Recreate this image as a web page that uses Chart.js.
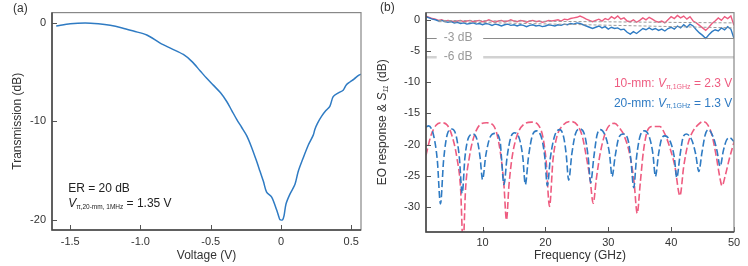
<!DOCTYPE html>
<html>
<head>
<meta charset="utf-8">
<script src="https://cdn.jsdelivr.net/npm/chart.js@4.4.1/dist/chart.umd.min.js"></script>
<style>
  body { margin: 0; background: #fff; }
  #wrap { position: relative; width: 748px; height: 266px; }
  canvas { position: absolute; top: 0; }
</style>
</head>
<body>
<div id="wrap">
  <canvas id="grafA" width="374" height="266" style="left:0"></canvas>
  <canvas id="grafB" width="374" height="266" style="left:374px"></canvas>
</div>
<script>
// painel (a) - transmissao vs tensao
const tensao = [-1.60, -1.50, -1.394, -1.30, -1.216, -1.13, -1.05, -0.955, -0.86, -0.78, -0.695, -0.635,
  -0.576, -0.53, -0.48, -0.43, -0.386, -0.35, -0.315, -0.28, -0.244, -0.21, -0.173, -0.149, -0.125, -0.102,
  -0.066, -0.031, -0.015, -0.007, 0.012, 0.022, 0.036, 0.064, 0.1, 0.123, 0.159, 0.195, 0.23, 0.242, 0.26,
  0.29, 0.32, 0.348, 0.372, 0.41, 0.443, 0.465, 0.491, 0.52, 0.55, 0.57];
const transmissao = [-0.3, -0.08, 0.0, -0.08, -0.23, -0.5, -0.82, -1.22, -2.04, -2.6, -3.2, -3.9,
  -4.85, -5.6, -6.34, -7.1, -7.98, -8.9, -9.8, -10.6, -11.45, -12.6, -14.06, -15.08, -16.1, -17.2,
  -17.7, -19.0, -19.7, -20.0, -20.0, -19.6, -18.4, -17.4, -16.4, -15.1, -13.7, -12.4, -11.4, -10.8, -10.2,
  -9.47, -8.9, -8.48, -7.49, -7.1, -6.83, -6.3, -6.0, -5.7, -5.35, -5.2];
const xTicksA = [-1.5, -1.0, -0.5, 0, 0.5];
const xLabelsA = ['-1.5', '-1.0', '-0.5', '0', '0.5'];
const yTicksA = [0, -10, -20];

// painel (b) - resposta EO (solido) e S11 (tracejado)
const freq = [1, 1.5, 2, 2.5, 3, 3.5, 4, 4.5, 5, 5.5, 6, 6.5, 7, 7.5, 8, 8.5, 9, 9.5, 10, 10.5,
  11, 11.5, 12, 12.5, 13, 13.5, 14, 14.5, 15, 15.5, 16, 16.5, 17, 17.5, 18, 18.5, 19, 19.5, 20, 20.5,
  21, 21.5, 22, 22.5, 23, 23.5, 24, 24.5, 25, 25.5, 26, 26.5, 27, 27.5, 28, 28.5, 29, 29.5, 30, 30.5,
  31, 31.5, 32, 32.5, 33, 33.5, 34, 34.5, 35, 35.5, 36, 36.5, 37, 37.5, 38, 38.5, 39, 39.5, 40, 40.5,
  41, 41.5, 42, 42.5, 43, 43.5, 44, 44.5, 45, 45.5, 46, 46.5, 47, 47.5, 48, 48.5, 49, 49.5, 50];
const eo10mm = [0.6, 0.4, 0.2, 0.1, -0.1, 0.0, -0.2, -0.1, -0.2, -0.3, -0.2, -0.1, -0.3, -0.2, -0.1, -0.3, -0.2, -0.1, -0.3, -0.2,
  0.0, -0.2, -0.4, -0.2, -0.1, -0.3, -0.2, 0.0, -0.2, -0.3, -0.1, -0.2, -0.4, -0.2, -0.1, -0.3, -0.2, -0.4, -0.3, -0.1,
  -0.2, -0.1, 0.0, -0.2, 0.1, 0.0, 0.2, 0.3, 0.4, 0.6, 0.4, 0.1, -0.1, -0.3, -0.1, 0.1, -0.2, 0.2, 0.0, 0.5,
  0.2, 0.6, 0.1, 0.3, -0.2, -0.3, 0.0, -0.4, -0.1, 0.3, 0.0, 0.4, 0.1, -0.2, -0.4, -0.2, -0.5, 0.0, 0.5, 0.2,
  0.7, 0.3, 0.6, 0.1, 0.5, -0.2, -0.5, -0.9, -1.3, -1.7, -1.2, -0.6, -0.2, 0.3, -0.1, 0.5, 0.2, 0.6, -0.9];
const eo20mm = [0.5, 0.3, 0.1, 0.0, -0.2, -0.1, -0.3, -0.4, -0.3, -0.5, -0.4, -0.6, -0.5, -0.7, -0.6, -0.5, -0.7, -0.6, -0.8, -0.6,
  -0.7, -0.9, -0.7, -0.8, -1.0, -0.8, -0.7, -0.9, -0.8, -1.0, -0.8, -0.9, -1.1, -0.9, -0.8, -1.0, -0.9, -1.1, -1.0, -0.8,
  -0.9, -1.0, -0.8, -0.9, -0.7, -0.8, -0.6, -0.7, -0.5, -0.6, -0.8, -1.0, -1.2, -1.4, -1.2, -1.0, -1.3, -1.1, -1.5, -1.2,
  -1.4, -1.3, -1.6, -1.5, -2.0, -2.3, -1.9, -2.2, -1.8, -1.4, -1.6, -1.3, -1.6, -1.4, -1.7, -1.5, -1.8, -1.4, -1.2, -1.5,
  -1.0, -1.3, -0.8, -1.2, -0.7, -1.0, -1.6, -2.1, -2.5, -3.0, -2.4, -1.9, -1.6, -1.8, -1.3, -1.6, -1.1, -1.5, -3.0];

const s11AzulFreq = [1.0, 1.4, 2.2, 2.8, 3.3, 3.8, 4.4, 5.1, 5.8, 6.3, 6.76, 7.2, 7.8, 8.5, 9.2, 9.6, 10.0, 10.5,
  11.2, 12.0, 12.8, 13.0, 13.4, 13.9, 14.5, 15.1, 15.9, 16.4, 16.8, 17.3, 17.9, 18.6, 19.4, 19.9, 20.3, 20.8,
  21.5, 22.3, 22.9, 23.3, 23.7, 24.2, 24.8, 25.5, 26.3, 26.8, 27.2, 27.7, 28.2, 28.7, 29.6, 30.2, 30.6, 31.1,
  31.7, 32.4, 33.2, 33.6, 34.05, 34.5, 35.1, 35.8, 36.6, 37.1, 37.5, 38.0, 38.5, 39.0, 39.9, 40.5, 40.9, 41.4,
  41.9, 42.4, 43.3, 43.9, 44.4, 44.9, 45.4, 45.9, 46.7, 47.3, 47.8, 48.3, 48.8, 49.3, 50.0];
const s11AzulDb = [-17.2, -17.0, -18.5, -22.5, -29.5, -22.5, -18.3, -17.5, -18.6, -22.0, -27.8, -22.0, -18.8, -18.3, -19.5, -22.0, -25.6, -21.8,
  -18.8, -18.2, -19.5, -22.0, -26.4, -22.0, -18.8, -18.1, -19.2, -22.0, -26.4, -22.0, -18.6, -17.8, -19.0, -22.0, -26.6, -22.0,
  -18.5, -17.6, -18.8, -21.5, -25.7, -21.5, -18.2, -17.5, -18.7, -22.0, -26.1, -22.0, -18.5, -17.6, -18.8, -21.5, -25.1, -21.8,
  -18.8, -18.3, -19.5, -22.5, -26.9, -22.0, -18.5, -17.8, -19.0, -21.5, -25.1, -21.5, -19.0, -18.6, -19.6, -22.0, -25.3, -21.8,
  -18.8, -18.3, -19.3, -21.5, -24.3, -21.3, -18.5, -17.6, -18.8, -21.0, -23.5, -21.0, -19.3, -18.9, -19.5];

const s11RosaFreq = [1.0, 1.8, 2.6, 3.5, 4.4, 5.2, 5.9, 6.5, 6.9, 7.3, 7.9, 8.6, 9.5, 10.6, 11.7, 12.4, 13.0, 13.4,
  13.8, 14.2, 14.7, 15.5, 16.5, 17.8, 18.9, 19.6, 20.1, 20.65, 21.2, 21.8, 22.8, 24.0, 25.1, 25.9, 26.6, 27.1,
  27.6, 28.1, 28.7, 29.5, 30.3, 31.0, 31.9, 32.5, 33.5, 34.1, 34.6, 35.1, 35.6, 36.3, 37.0, 38.2, 39.0, 39.8,
  40.6, 41.4, 42.0, 42.7, 43.5, 44.3, 45.1, 45.8, 46.5, 47.2, 47.7, 48.1, 48.6, 49.2, 50.0];
const s11RosaDb = [-21.7, -18.5, -16.9, -16.5, -16.9, -18.8, -22.0, -27.0, -36.0, -27.0, -22.0, -18.8, -16.9, -16.5, -16.9, -18.8, -22.5, -26.5,
  -32.1, -26.5, -22.0, -18.5, -16.8, -16.4, -16.9, -18.8, -22.5, -29.9, -22.5, -18.8, -16.9, -16.3, -16.9, -18.8, -22.5, -25.5,
  -29.4, -25.5, -21.5, -18.2, -16.8, -16.6, -17.5, -18.5, -22.0, -26.0, -31.0, -26.0, -21.0, -17.6, -17.1, -17.1, -18.3, -20.5,
  -23.5, -28.2, -23.5, -19.8, -17.8, -16.8, -16.3, -16.8, -18.5, -22.0, -25.0, -26.6, -25.0, -22.5, -19.6];

// linhas de referencia -3 dB / -6 dB (com espaco para o texto) e ajustes tracejados
const ref3dB = [{ x: 1, y: -3 }, { x: 2.7, y: -3 }, { x: null, y: null }, { x: 10.1, y: -3 }, { x: 50, y: -3 }];
const ref6dB = [{ x: 1, y: -6 }, { x: 2.7, y: -6 }, { x: null, y: null }, { x: 10.1, y: -6 }, { x: 50, y: -6 }];
const ajuste10mm = [{ x: 3, y: -0.1 }, { x: 50, y: -0.5 }];
const ajuste20mm = [{ x: 3, y: -0.3 }, { x: 50, y: -1.3 }];
const xTicksB = [10, 20, 30, 40, 50];
const yTicksB = [0, -5, -10, -15, -20, -25, -30];

const AZUL = '#2f7bc3';
const ROSA = '#ee5c80';
const FONTE = '"Liberation Sans", Arial, Helvetica, sans-serif';

function pares(xs, ys) {
    return xs.map((x, i) => ({ x: x, y: ys[i] }));
}

// escreve varios pedacos de texto em sequencia (italico, subscrito...)
function textoComposto(ctx, x, y, partes) {
    let cx = x;
    partes.forEach(p => {
        ctx.font = p.f;
        ctx.fillStyle = p.c;
        ctx.fillText(p.t, cx, y + (p.dy || 0));
        cx += ctx.measureText(p.t).width;
    });
}

// ticks para dentro + moldura
const moldura = {
    id: 'moldura',
    afterDraw(chart) {
        const ctx = chart.ctx, a = chart.chartArea;
        const sx = chart.scales.x, sy = chart.scales.y;
        ctx.save();
        ctx.strokeStyle = '#555';
        ctx.lineWidth = 1;
        sx.ticks.forEach(t => {
            const px = Math.round(sx.getPixelForValue(t.value)) + 0.5;
            ctx.beginPath(); ctx.moveTo(px, a.bottom); ctx.lineTo(px, a.bottom - 5); ctx.stroke();
        });
        sy.ticks.forEach(t => {
            const py = Math.round(sy.getPixelForValue(t.value)) + 0.5;
            ctx.beginPath(); ctx.moveTo(a.left, py); ctx.lineTo(a.left + 5, py); ctx.stroke();
        });
        ctx.strokeStyle = '#888';
        ctx.lineWidth = 1.2;
        ctx.strokeRect(a.left, a.top, a.right - a.left, a.bottom - a.top);
        ctx.strokeStyle = '#444';
        ctx.lineWidth = 1.5;
        ctx.beginPath();
        ctx.moveTo(a.left, a.top); ctx.lineTo(a.left, a.bottom); ctx.lineTo(a.right, a.bottom);
        ctx.stroke();
        ctx.restore();
    }
};

function eixoX(min, max, ticks, labels, altura, pad, titulo) {
    return {
        type: 'linear', min: min, max: max,
        afterBuildTicks: s => { s.ticks = ticks.map(v => ({ value: v })); },
        afterFit: s => { s.height = altura; },
        grid: { display: false, drawTicks: false },
        border: { display: false },
        ticks: {
            padding: pad, color: '#333', font: { family: FONTE, size: 11 },
            callback: (v, i) => labels ? labels[i] : String(v)
        },
        title: { display: true, text: titulo, color: '#333', font: { family: FONTE, size: 12 }, padding: { top: 0, bottom: 3 } }
    };
}

function eixoY(min, max, ticks, titulo) {
    return {
        type: 'linear', min: min, max: max,
        afterBuildTicks: s => { s.ticks = ticks.map(v => ({ value: v })); },
        afterFit: s => { s.width = 52; },
        grid: { display: false, drawTicks: false },
        border: { display: false },
        ticks: { padding: 6, color: '#333', font: { family: FONTE, size: 11 } },
        title: { display: !!titulo, text: titulo, color: '#333', font: { family: FONTE, size: 12 }, padding: { top: 10, bottom: 0 } }
    };
}

const opcoesBase = {
    responsive: false,
    animation: false,
    devicePixelRatio: 1,
    plugins: { legend: { display: false }, tooltip: { enabled: false } },
    elements: { point: { radius: 0 } }
};

// ---------- painel (a)
const textosA = {
    id: 'textosA',
    afterDraw(chart) {
        const ctx = chart.ctx, sx = chart.scales.x, sy = chart.scales.y;
        ctx.save();
        ctx.textBaseline = 'middle';
        ctx.textAlign = 'left';
        textoComposto(ctx, 13, 9, [{ t: '(a)', f: '12px ' + FONTE, c: '#333' }]);
        const x0 = sx.getPixelForValue(-1.515);
        textoComposto(ctx, x0, sy.getPixelForValue(-16.8), [{ t: 'ER = 20 dB', f: '12px ' + FONTE, c: '#222' }]);
        textoComposto(ctx, x0, sy.getPixelForValue(-18.4), [
            { t: 'V', f: 'italic 12px ' + FONTE, c: '#222' },
            { t: 'π,20-mm, 1MHz', f: '6.5px ' + FONTE, c: '#222', dy: 3 },
            { t: ' = 1.35 V', f: '12px ' + FONTE, c: '#222' }
        ]);
        ctx.restore();
    }
};

new Chart(document.getElementById('grafA'), {
    type: 'line',
    data: {
        datasets: [{
            data: pares(tensao, transmissao),
            borderColor: AZUL, borderWidth: 1.5, tension: 0.3, fill: false
        }]
    },
    options: Object.assign({}, opcoesBase, {
        layout: { padding: { top: 7, right: 13, left: 0, bottom: 0 } },
        scales: {
            x: eixoX(-1.63, 0.57, xTicksA, xLabelsA, 36, 5, 'Voltage (V)'),
            y: eixoY(-21.05, 1.06, yTicksA, 'Transmission (dB)')
        }
    }),
    plugins: [moldura, textosA]
});

// ---------- painel (b)
const textosB = {
    id: 'textosB',
    afterDraw(chart) {
        const ctx = chart.ctx, sx = chart.scales.x, sy = chart.scales.y, a = chart.chartArea;
        ctx.save();
        ctx.textBaseline = 'middle';
        ctx.textAlign = 'left';
        textoComposto(ctx, 6, 8, [{ t: '(b)', f: '12px ' + FONTE, c: '#333' }]);

        // rotulos das linhas de -3 dB e -6 dB
        ctx.textAlign = 'center';
        ctx.font = '12px ' + FONTE;
        ctx.fillStyle = '#999';
        ctx.fillText('-3 dB', sx.getPixelForValue(6.1), sy.getPixelForValue(-2.9));
        ctx.fillText('-6 dB', sx.getPixelForValue(6.1), sy.getPixelForValue(-5.9));
        ctx.textAlign = 'left';

        const x0 = sx.getPixelForValue(30.9);
        textoComposto(ctx, x0, sy.getPixelForValue(-10.27), [
            { t: '10-mm: ', f: '12px ' + FONTE, c: ROSA },
            { t: 'V', f: 'italic 12px ' + FONTE, c: ROSA },
            { t: 'π,1GHz', f: '7px ' + FONTE, c: ROSA, dy: 3 },
            { t: ' = 2.3 V', f: '12px ' + FONTE, c: ROSA }
        ]);
        textoComposto(ctx, x0, sy.getPixelForValue(-13.4), [
            { t: '20-mm: ', f: '12px ' + FONTE, c: AZUL },
            { t: 'V', f: 'italic 12px ' + FONTE, c: AZUL },
            { t: 'π,1GHz', f: '7px ' + FONTE, c: AZUL, dy: 3 },
            { t: ' = 1.3 V', f: '12px ' + FONTE, c: AZUL }
        ]);

        // titulo do eixo y com subscrito
        const partes = [
            { t: 'EO response & ', f: '12px ' + FONTE, c: '#333' },
            { t: 'S', f: 'italic 12px ' + FONTE, c: '#333' },
            { t: '11', f: 'italic 7px ' + FONTE, c: '#333', dy: 3 },
            { t: ' (dB)', f: '12px ' + FONTE, c: '#333' }
        ];
        let largura = 0;
        partes.forEach(p => { ctx.font = p.f; largura += ctx.measureText(p.t).width; });
        ctx.translate(9, (a.top + a.bottom) / 2);
        ctx.rotate(-Math.PI / 2);
        textoComposto(ctx, -largura / 2, 0, partes);
        ctx.restore();
    }
};

new Chart(document.getElementById('grafB'), {
    type: 'line',
    data: {
        datasets: [
            { data: ref6dB, borderColor: '#d2d2d2', borderWidth: 2.5, spanGaps: false },
            { data: ref3dB, borderColor: '#8a8a8a', borderWidth: 1, spanGaps: false },
            { data: ajuste10mm, borderColor: '#9a9a9a', borderWidth: 1, borderDash: [3, 2] },
            { data: ajuste20mm, borderColor: '#9a9a9a', borderWidth: 1, borderDash: [3, 2] },
            { data: pares(freq, eo20mm), borderColor: AZUL, borderWidth: 1.4 },
            { data: pares(freq, eo10mm), borderColor: ROSA, borderWidth: 1.4 },
            { data: pares(s11AzulFreq, s11AzulDb), borderColor: AZUL, borderWidth: 1.6, borderDash: [7, 3], cubicInterpolationMode: 'monotone' },
            { data: pares(s11RosaFreq, s11RosaDb), borderColor: ROSA, borderWidth: 1.6, borderDash: [7, 3], cubicInterpolationMode: 'monotone' }
        ]
    },
    options: Object.assign({}, opcoesBase, {
        layout: { padding: { top: 7, right: 14, left: 0, bottom: 0 } },
        scales: {
            x: eixoX(1, 50, xTicksB, null, 34, 4, 'Frequency (GHz)'),
            y: eixoY(-34, 1.15, yTicksB, '')
        }
    }),
    plugins: [moldura, textosB]
});
</script>
</body>
</html>
